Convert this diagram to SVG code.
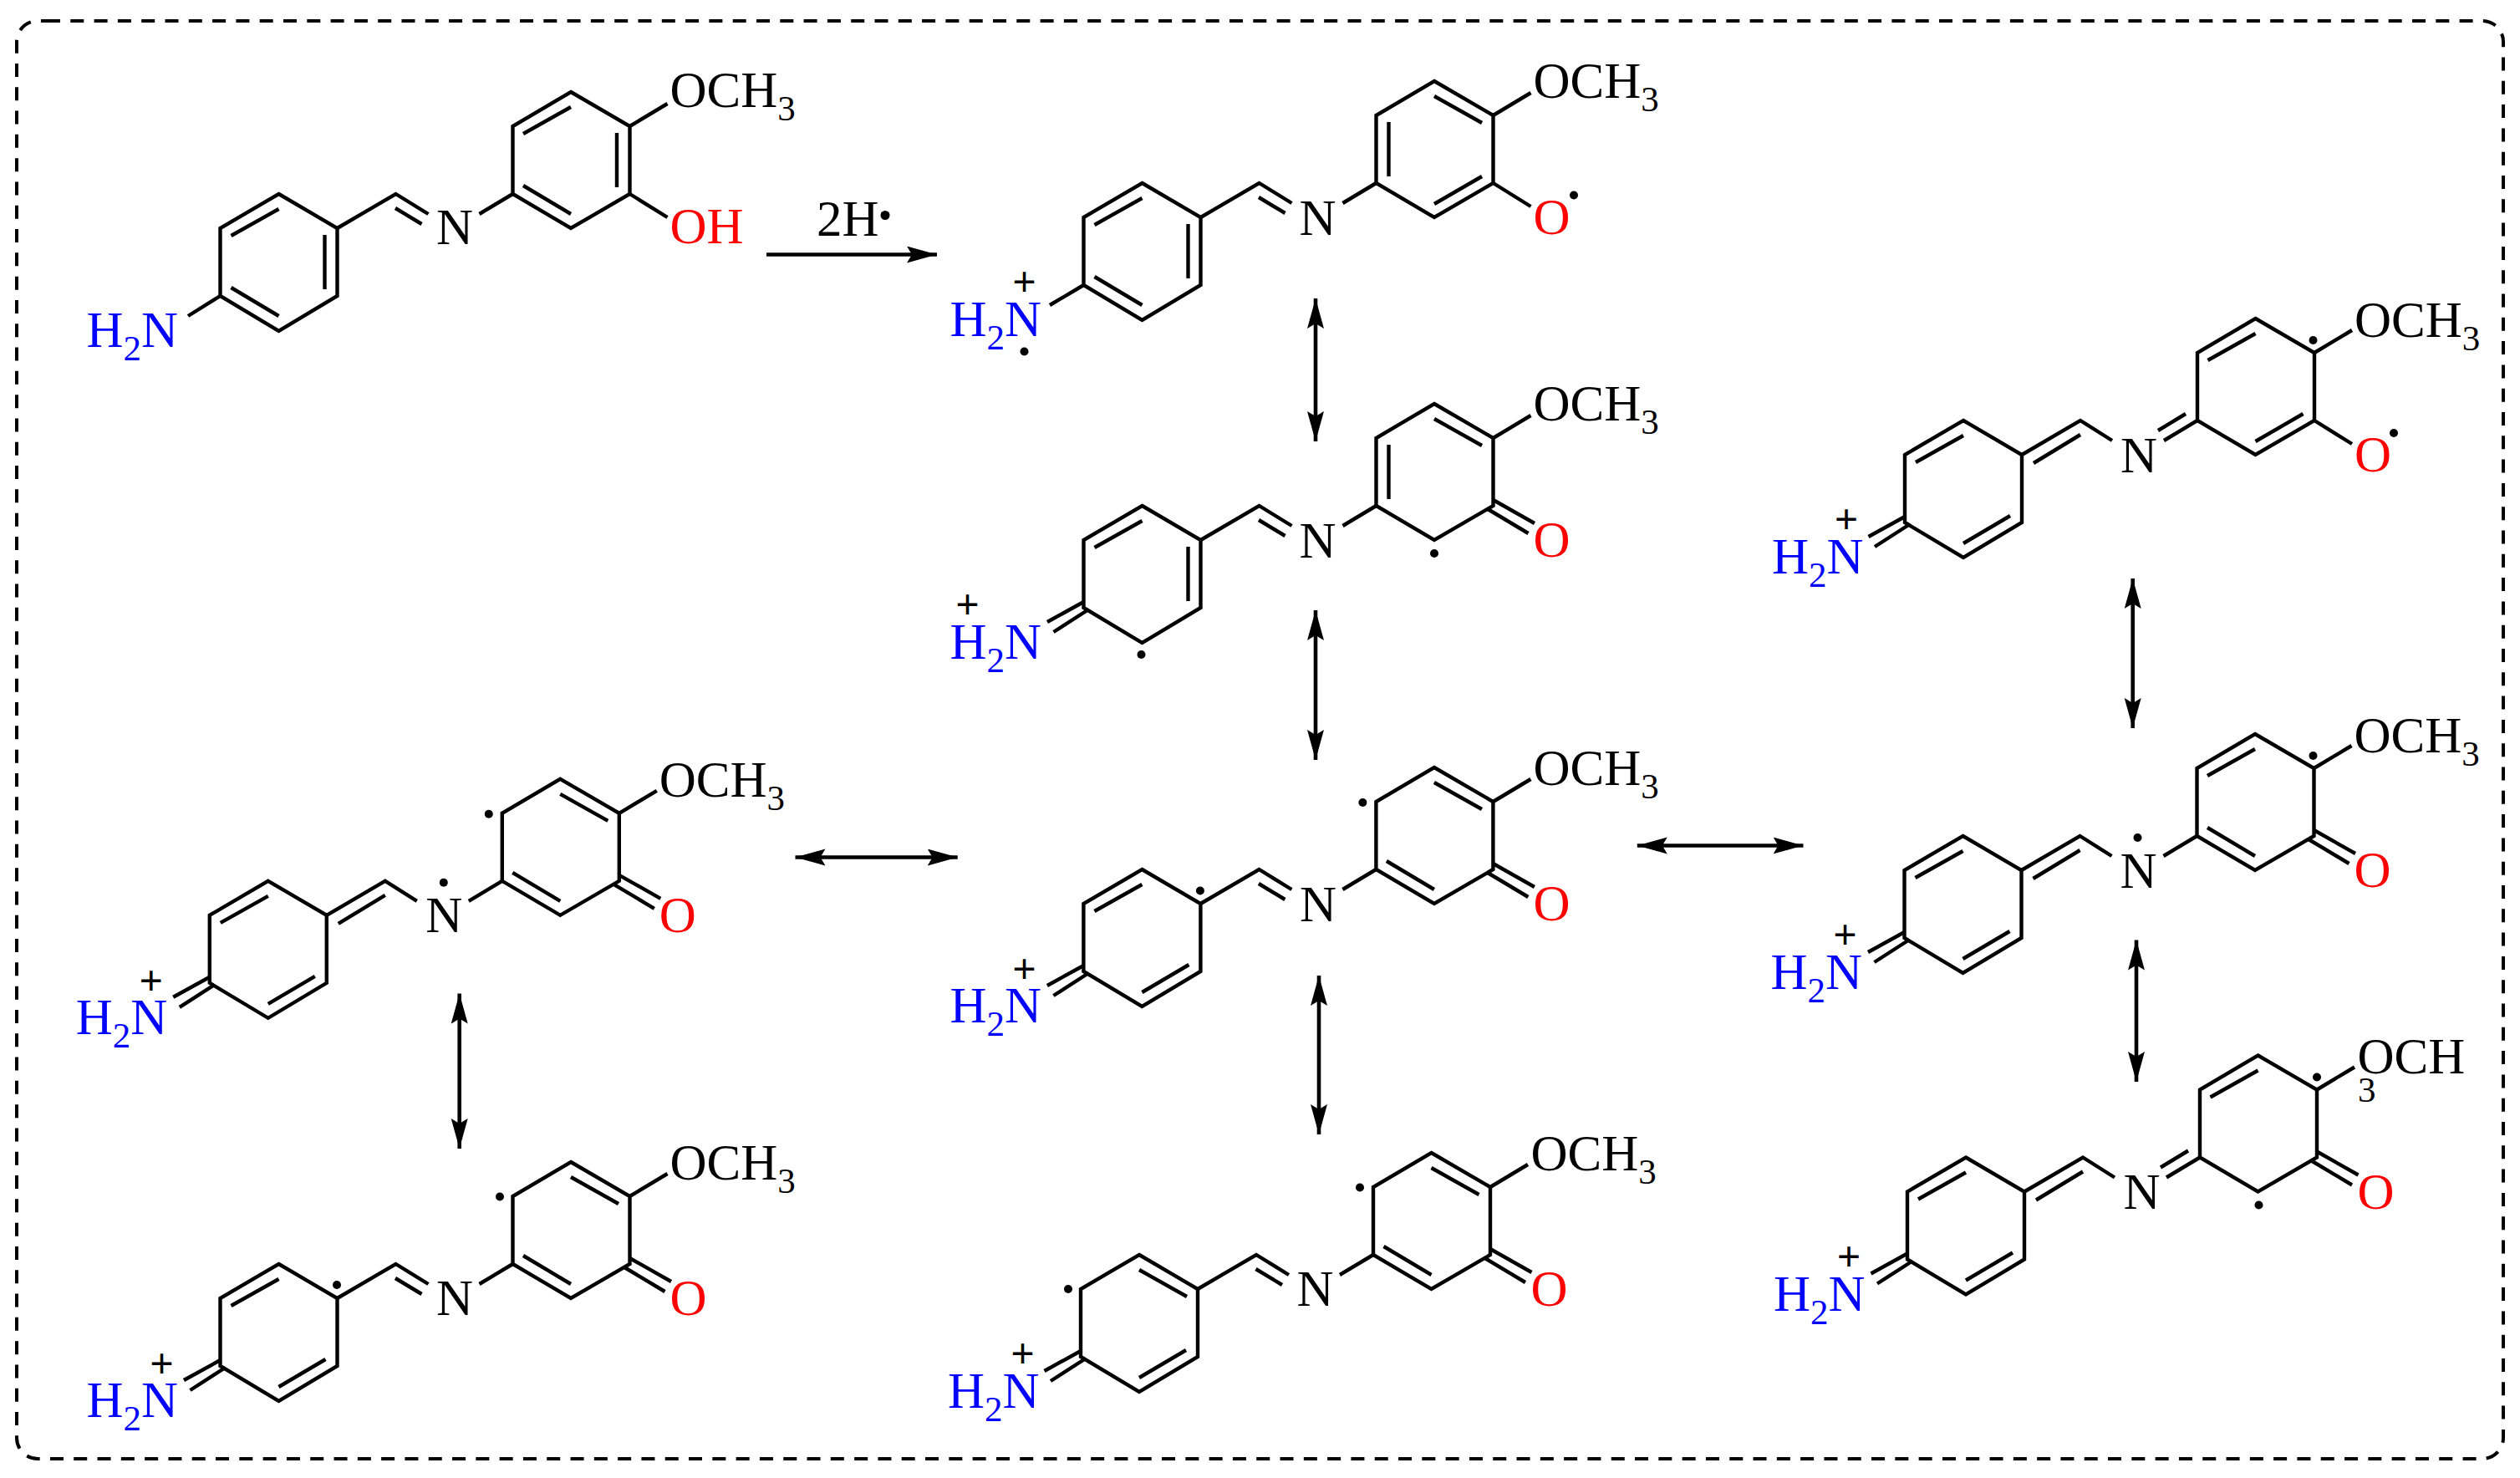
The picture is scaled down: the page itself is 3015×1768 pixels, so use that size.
<svg xmlns="http://www.w3.org/2000/svg" width="3015" height="1768" viewBox="0 0 3015 1768">
<style>
.bg{fill:#fff}
.frame{fill:none;stroke:#000;stroke-width:4;stroke-dasharray:16 12.3}
.b{fill:none;stroke:#000;stroke-width:4.4;stroke-linejoin:miter;stroke-linecap:butt}
.c{fill:none;stroke:#000;stroke-width:4.6}
.t{font-family:"Liberation Serif",serif;font-size:61px;fill:#000}
.s{font-size:43px}
.h{fill:#0000ff}
.o{fill:#ff0000}
.p{font-family:"Liberation Sans",sans-serif;font-size:48px;fill:#000;text-anchor:middle}
.d{fill:#000}
</style>
<defs>
<marker id="ah" markerUnits="userSpaceOnUse" markerWidth="40" markerHeight="22" refX="36" refY="10" orient="auto-start-reverse"><path d="M0 0L36 10L0 20L6 10Z" fill="#000"/></marker>
<path id="ringL" class="b" d="M0 0L70 41V122L0 164L-70 122V41Z"/>
<path id="ringR" class="b" d="M349.500-122L420-81V0L349.500 41L280 0V-81Z"/>
<path id="cn" class="b" d="M70 41L140 0L179 24M139.500 17L171 36M240 24L280 0"/>
<path id="cne" class="b" d="M70 41L140 0L178 24M84 51L140 17M240 24L280 0"/>
<path id="cnee" class="b" d="M70 41L140 0L178 24M84 51L140 17M240 24L280 0M233 12L266-8"/>
<path id="nh" class="b" d="M-70 115L-113.500 139M-64 124L-106 151"/>
<path id="co" class="b" d="M420-7L469.500 21M413.500 4L462 33"/>
<path id="ome" class="b" d="M420-81L465-108"/>
<path id="oh" class="b" d="M420 0L465 28"/>
</defs>
<rect class="bg" x="0" y="0" width="3015" height="1768"/>
<path id="frame" class="frame" d="M56 25H2970A25 25 0 0 1 2995 50V1720A25 25 0 0 1 2970 1745H45A25 25 0 0 1 20 1720V50A25 25 0 0 1 45 25H56"/>
<g id="connectors">
<path class="c" marker-end="url(#ah)" d="M917 304.500H1121"/>
<path class="c" marker-start="url(#ah)" marker-end="url(#ah)" d="M1574 357V528"/>
<path class="c" marker-start="url(#ah)" marker-end="url(#ah)" d="M1574 730V909"/>
<path class="c" marker-start="url(#ah)" marker-end="url(#ah)" d="M1578 1167V1357"/>
<path class="c" marker-start="url(#ah)" marker-end="url(#ah)" d="M2551.700 692V871"/>
<path class="c" marker-start="url(#ah)" marker-end="url(#ah)" d="M2556 1124.500V1294"/>
<path class="c" marker-start="url(#ah)" marker-end="url(#ah)" d="M549.700 1188.600V1374"/>
<path class="c" marker-start="url(#ah)" marker-end="url(#ah)" d="M951.500 1025.500H1145.700"/>
<path class="c" marker-start="url(#ah)" marker-end="url(#ah)" d="M1958.800 1011.500H2157.500"/>
</g>
<g id="label-2h"><text class="t" x="977" y="282">2H</text><circle class="d" cx="1059" cy="257.500" r="5.500"/></g>

<g id="m1" transform="translate(333.500 232)">
<use href="#ringL"/><use href="#ringR"/><use href="#cn"/><use href="#ome"/><use href="#oh"/>
<path class="b" d="M-57 50L0 18M55 49V114M-57 112L0 146M292.500-72L349.500-104M404.500-73V-8M292.500-10L349.500 24M-70 122L-108.500 146"/>
<text class="t" x="188.500" y="60">N</text>
<text class="t" x="468" y="-104">OCH<tspan class="s" dy="16">3</tspan></text>
<text class="t h" x="-230" y="183">H<tspan class="s" dy="16">2</tspan><tspan dy="-16">N</tspan></text>
<text class="t o" x="468" y="59">OH</text>
</g>

<g id="m2" transform="translate(1366.500 219)">
<use href="#ringL"/><use href="#ringR"/><use href="#cn"/><use href="#ome"/><use href="#oh"/>
<path class="b" d="M-57 50L0 18M55 49V114M-57 112L0 146M349.500-104L406.500-72M295-73V-8M349.500 25L406.500-8M-70 122L-110.500 146"/>
<text class="t" x="188" y="61.500">N</text>
<text class="t" x="468" y="-102">OCH<tspan class="s" dy="16">3</tspan></text>
<text class="t h" x="-230" y="183">H<tspan class="s" dy="16">2</tspan><tspan dy="-16">N</tspan></text>
<text class="t o" x="468" y="61">O</text>
<text class="p" x="-141" y="134">+</text>
<circle class="d" cx="516.500" cy="14.500" r="5"/><circle class="d" cx="-141" cy="201.500" r="5"/>
</g>

<g id="m3" transform="translate(1366.500 605)">
<use href="#ringL"/><use href="#ringR"/><use href="#cn"/><use href="#ome"/><use href="#co"/><use href="#nh"/>
<path class="b" d="M-57 50L0 18M55 49V114M349.500-104L406.500-72M295-73V-8"/>
<text class="t" x="188" y="61.500">N</text>
<text class="t" x="468" y="-102">OCH<tspan class="s" dy="16">3</tspan></text>
<text class="t h" x="-230" y="183">H<tspan class="s" dy="16">2</tspan><tspan dy="-16">N</tspan></text>
<text class="t o" x="468" y="61">O</text>
<text class="p" x="-209" y="134">+</text>
<circle class="d" cx="-1" cy="178" r="5"/><circle class="d" cx="349.500" cy="57" r="5"/>
</g>

<g id="m4" transform="translate(2349 503)">
<use href="#ringL"/><use href="#ringR"/><use href="#cnee"/><use href="#ome"/><use href="#oh"/><use href="#nh"/>
<path class="b" d="M-57 50L0 18M0 147L56 114M292.500-72L349.500-104M349.500 25L406.500-8"/>
<text class="t" x="188" y="61.500">N</text>
<text class="t" x="468" y="-100">OCH<tspan class="s" dy="16">3</tspan></text>
<text class="t h" x="-229" y="183">H<tspan class="s" dy="16">2</tspan><tspan dy="-16">N</tspan></text>
<text class="t o" x="468" y="61">O</text>
<text class="p" x="-140" y="134">+</text>
<circle class="d" cx="418.500" cy="-96" r="5"/><circle class="d" cx="515" cy="15" r="5"/>
</g>

<g id="m5" transform="translate(2348.500 1000)">
<use href="#ringL"/><use href="#ringR"/><use href="#cne"/><use href="#ome"/><use href="#co"/><use href="#nh"/>
<path class="b" d="M-57 50L0 18M0 147L56 114M292.500-72L349.500-104M292.500-10L349.500 24"/>
<text class="t" x="188" y="61.500">N</text>
<text class="t" x="468" y="-100">OCH<tspan class="s" dy="16">3</tspan></text>
<text class="t h" x="-230" y="183">H<tspan class="s" dy="16">2</tspan><tspan dy="-16">N</tspan></text>
<text class="t o" x="468" y="61">O</text>
<text class="p" x="-141" y="134">+</text>
<circle class="d" cx="419" cy="-96" r="5"/><circle class="d" cx="209" cy="2" r="5"/>
</g>

<g id="m6" transform="translate(2352 1384.500)">
<use href="#ringL"/><use href="#ringR"/><use href="#cnee"/><use href="#ome"/><use href="#co"/><use href="#nh"/>
<path class="b" d="M-57 50L0 18M0 147L56 114M292.500-72L349.500-104"/>
<text class="t" x="188.500" y="61.500">N</text>
<text class="t h" x="-230" y="183">H<tspan class="s" dy="16">2</tspan><tspan dy="-16">N</tspan></text>
<text class="t o" x="468.500" y="61">O</text>
<text class="t" x="468.500" y="-101">OCH</text><text class="t s" x="469" y="-67">3</text>
<text class="p" x="-140" y="134">+</text>
<circle class="d" cx="420" cy="-96" r="5"/><circle class="d" cx="350.500" cy="57" r="5"/>
</g>

<g id="m7" transform="translate(320.800 1053.800)">
<use href="#ringL"/><use href="#ringR"/><use href="#cne"/><use href="#ome"/><use href="#co"/><use href="#nh"/>
<path class="b" d="M-57 50L0 18M0 147L56 114M349.500-104L406.500-72M292.500-10L349.500 24"/>
<text class="t" x="188.500" y="61.500">N</text>
<text class="t" x="468" y="-101">OCH<tspan class="s" dy="16">3</tspan></text>
<text class="t h" x="-230" y="183">H<tspan class="s" dy="16">2</tspan><tspan dy="-16">N</tspan></text>
<text class="t o" x="468" y="61">O</text>
<text class="p" x="-140" y="135">+</text>
<circle class="d" cx="210" cy="2" r="5"/><circle class="d" cx="264" cy="-80" r="5"/>
</g>

<g id="m8" transform="translate(333.500 1512)">
<use href="#ringL"/><use href="#ringR"/><use href="#cn"/><use href="#ome"/><use href="#co"/><use href="#nh"/>
<path class="b" d="M-57 50L0 18M0 147L56 114M349.500-104L406.500-72M292.500-10L349.500 24"/>
<text class="t" x="188.500" y="61">N</text>
<text class="t" x="468" y="-101">OCH<tspan class="s" dy="16">3</tspan></text>
<text class="t h" x="-230" y="183">H<tspan class="s" dy="16">2</tspan><tspan dy="-16">N</tspan></text>
<text class="t o" x="468" y="61">O</text>
<text class="p" x="-140" y="135">+</text>
<circle class="d" cx="69.500" cy="25" r="5"/><circle class="d" cx="264.500" cy="-80.500" r="5"/>
</g>

<g id="m9" transform="translate(1366.400 1040)">
<use href="#ringL"/><use href="#ringR"/><use href="#cn"/><use href="#ome"/><use href="#co"/><use href="#nh"/>
<path class="b" d="M-57 50L0 18M0 147L56 114M349.500-104L406.500-72M292.500-10L349.500 24"/>
<text class="t" x="188.500" y="61.500">N</text>
<text class="t" x="468" y="-101">OCH<tspan class="s" dy="16">3</tspan></text>
<text class="t h" x="-230" y="183">H<tspan class="s" dy="16">2</tspan><tspan dy="-16">N</tspan></text>
<text class="t o" x="468" y="61">O</text>
<text class="p" x="-141" y="135">+</text>
<circle class="d" cx="69.500" cy="25.500" r="5"/><circle class="d" cx="264" cy="-80" r="5"/>
</g>

<g id="m10" transform="translate(1363 1501)">
<use href="#ringL"/><use href="#ringR"/><use href="#cn"/><use href="#ome"/><use href="#co"/><use href="#nh"/>
<path class="b" d="M0 18L57 50M0 147L56 114M349.500-104L406.500-72M292.500-10L349.500 24"/>
<text class="t" x="188.500" y="61">N</text>
<text class="t" x="468.500" y="-101">OCH<tspan class="s" dy="16">3</tspan></text>
<text class="t h" x="-229" y="183">H<tspan class="s" dy="16">2</tspan><tspan dy="-16">N</tspan></text>
<text class="t o" x="468.500" y="61">O</text>
<text class="p" x="-139.500" y="134">+</text>
<circle class="d" cx="-85" cy="41" r="5"/><circle class="d" cx="264" cy="-80.500" r="5"/>
</g>
</svg>
